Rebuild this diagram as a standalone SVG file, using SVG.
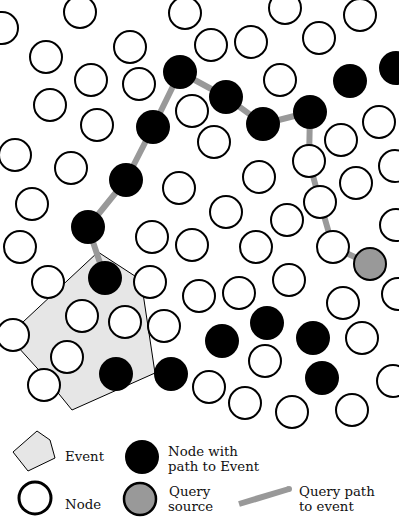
<svg xmlns="http://www.w3.org/2000/svg" width="399" height="520" viewBox="0 0 399 520">
<style>
.n{fill:#fff;stroke:#000;stroke-width:2}
.b{fill:#000}
.q{fill:#999;stroke:#000;stroke-width:2}
.ev{fill:#e6e6e6;stroke:#000;stroke-width:1}
.p{fill:none;stroke:#999;stroke-width:6;stroke-linejoin:round}
text{font-family:"DejaVu Serif",serif;font-size:13.3px;fill:#111}
</style>
<rect width="399" height="520" fill="#fff"/>
<g id="event"><polygon class="ev" points="98,252 141,280 155,373 72,410 46,378 8,336"/></g>
<g id="connectors">
<polyline class="p" points="370,264 333,247 320,202 309,161 310,112 263,124 226,97 180,72 153,127 126,180 88,227 105,278"/>
</g>
<g id="nodes">
<circle id="n1" class="n" cx="2" cy="28" r="16"/>
<circle id="n2" class="n" cx="80" cy="12" r="16"/>
<circle id="n3" class="n" cx="185" cy="13" r="16"/>
<circle id="n4" class="n" cx="285" cy="8" r="16"/>
<circle id="n5" class="n" cx="360" cy="15" r="16"/>
<circle id="n6" class="n" cx="46" cy="57" r="16"/>
<circle id="n7" class="n" cx="130" cy="47" r="16"/>
<circle id="n8" class="n" cx="211" cy="45" r="16"/>
<circle id="n9" class="n" cx="251" cy="42" r="16"/>
<circle id="n10" class="n" cx="319" cy="38" r="16"/>
<circle id="n11" class="n" cx="91" cy="80" r="16"/>
<circle id="n12" class="n" cx="139" cy="84" r="16"/>
<circle id="n13" class="n" cx="280" cy="80" r="16"/>
<circle id="n14" class="n" cx="50" cy="105" r="16"/>
<circle id="n15" class="n" cx="97" cy="125" r="16"/>
<circle id="n16" class="n" cx="192" cy="111" r="16"/>
<circle id="n17" class="n" cx="379" cy="122" r="16"/>
<circle id="n18" class="n" cx="214" cy="142" r="16"/>
<circle id="n19" class="n" cx="341" cy="140" r="16"/>
<circle id="n20" class="n" cx="15" cy="155" r="16"/>
<circle id="n21" class="n" cx="71" cy="168" r="16"/>
<circle id="n22" class="n" cx="179" cy="188" r="16"/>
<circle id="n23" class="n" cx="309" cy="161" r="16"/>
<circle id="n24" class="n" cx="259" cy="177" r="16"/>
<circle id="n25" class="n" cx="356" cy="183" r="16"/>
<circle id="n26" class="n" cx="395" cy="166" r="16"/>
<circle id="n27" class="n" cx="32" cy="204" r="16"/>
<circle id="n28" class="n" cx="320" cy="202" r="16"/>
<circle id="n29" class="n" cx="226" cy="212" r="16"/>
<circle id="n30" class="n" cx="287" cy="220" r="16"/>
<circle id="n31" class="n" cx="396" cy="225" r="16"/>
<circle id="n32" class="n" cx="20" cy="247" r="16"/>
<circle id="n33" class="n" cx="152" cy="237" r="16"/>
<circle id="n34" class="n" cx="192" cy="245" r="16"/>
<circle id="n35" class="n" cx="256" cy="247" r="16"/>
<circle id="n36" class="n" cx="333" cy="247" r="16"/>
<circle id="n37" class="n" cx="48" cy="282" r="16"/>
<circle id="n38" class="n" cx="150" cy="282" r="16"/>
<circle id="n39" class="n" cx="289" cy="280" r="16"/>
<circle id="n40" class="n" cx="199" cy="296" r="16"/>
<circle id="n41" class="n" cx="239" cy="293" r="16"/>
<circle id="n42" class="n" cx="343" cy="303" r="16"/>
<circle id="n43" class="n" cx="398" cy="294" r="16"/>
<circle id="n44" class="n" cx="13" cy="335" r="16"/>
<circle id="n45" class="n" cx="82" cy="316" r="16"/>
<circle id="n46" class="n" cx="125" cy="322" r="16"/>
<circle id="n47" class="n" cx="164" cy="326" r="16"/>
<circle id="n48" class="n" cx="362" cy="338" r="16"/>
<circle id="n49" class="n" cx="67" cy="357" r="16"/>
<circle id="n50" class="n" cx="265" cy="361" r="16"/>
<circle id="n51" class="n" cx="44" cy="385" r="16"/>
<circle id="n52" class="n" cx="209" cy="387" r="16"/>
<circle id="n53" class="n" cx="393" cy="381" r="16"/>
<circle id="n54" class="n" cx="245" cy="403" r="16"/>
<circle id="n55" class="n" cx="292" cy="412" r="16"/>
<circle id="n56" class="n" cx="352" cy="410" r="16"/>
<circle id="b1" class="b" cx="180" cy="72" r="17"/>
<circle id="b2" class="b" cx="153" cy="127" r="17"/>
<circle id="b3" class="b" cx="126" cy="180" r="17"/>
<circle id="b4" class="b" cx="88" cy="227" r="17"/>
<circle id="b5" class="b" cx="105" cy="278" r="17"/>
<circle id="b6" class="b" cx="226" cy="97" r="17"/>
<circle id="b7" class="b" cx="263" cy="124" r="17"/>
<circle id="b8" class="b" cx="310" cy="112" r="17"/>
<circle id="b9" class="b" cx="350" cy="81" r="17"/>
<circle id="b10" class="b" cx="396" cy="68" r="17"/>
<circle id="b11" class="b" cx="116" cy="374" r="17"/>
<circle id="b12" class="b" cx="171" cy="374" r="17"/>
<circle id="b13" class="b" cx="267" cy="323" r="17"/>
<circle id="b14" class="b" cx="222" cy="341" r="17"/>
<circle id="b15" class="b" cx="313" cy="338" r="17"/>
<circle id="b16" class="b" cx="322" cy="378" r="17"/>
<circle id="src" class="q" cx="370" cy="264" r="16"/>
</g>
<g id="legend">
<g id="leg-event"><polygon class="ev" points="13,452 37,431 50,440 55,458 28,471"/><text x="65" y="461">Event</text></g>
<g id="leg-path-node"><circle class="b" cx="142" cy="457" r="17"/><text x="168" y="456">Node with</text><text x="168" y="471">path to Event</text></g>
<g id="leg-node"><circle class="n" style="stroke-width:3" cx="35" cy="498" r="16"/><text x="65" y="509">Node</text></g>
<g id="leg-source"><circle class="q" style="stroke-width:2.5" cx="140" cy="499" r="16"/><text x="169" y="496">Query</text><text x="168" y="511">source</text></g>
<g id="leg-query"><line x1="239" y1="504" x2="289" y2="489" stroke="#999" stroke-width="6"/><circle cx="289" cy="489" r="3" fill="#999"/><text x="299" y="496">Query path</text><text x="299" y="511">to event</text></g>
</g>
</svg>
